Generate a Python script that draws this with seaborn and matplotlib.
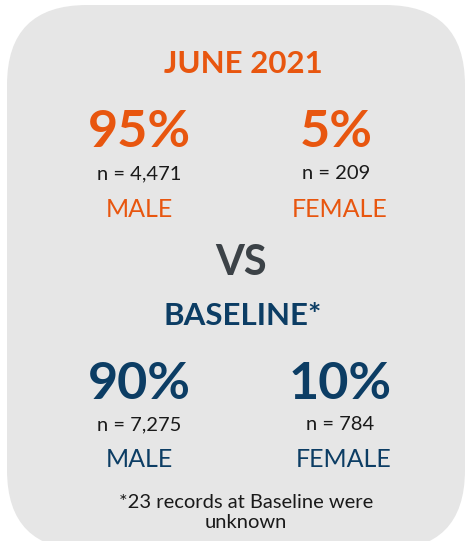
import matplotlib
matplotlib.use('Agg')
import matplotlib.pyplot as plt
from matplotlib.patches import FancyBboxPatch
import seaborn as sns

periods = ['JUNE 2021', 'BASELINE*']
groups = ['MALE', 'FEMALE']
june_pct = [95, 5]
june_n = [4471, 209]
base_pct = [90, 10]
base_n = [7275, 784]
footnote = ['*23 records at Baseline were', 'unknown']

orange = '#e8560f'
navy = '#0c3d64'
vs_grey = '#3c4247'
text_black = '#1a1a1a'

sns.set_theme(style='white')
plt.rcParams['font.family'] = ['Lato', 'DejaVu Sans']

fig = plt.figure(figsize=(4.68, 5.41), dpi=100)
ax = fig.add_axes([0, 0, 1, 1])
ax.set_xlim(0, 468)
ax.set_ylim(541, 0)
ax.axis('off')

# grey rounded card
card = FancyBboxPatch((7, 5), 458, 545, boxstyle='round,pad=0,rounding_size=80',
                      facecolor='#e6e6e6', edgecolor='none')
ax.add_patch(card)


def block(title, pct, n, color, col_x, y_title, y_pct, y_n, y_lab):
    ax.text(243, y_title, title, ha='center', va='baseline', fontsize=22.5,
            fontweight='bold', color=color)
    for i in range(2):
        ax.text(col_x[i], y_pct, '{}%'.format(pct[i]), ha='center', va='baseline',
                fontsize=37.5, fontweight='bold', color=color)
        ax.text(col_x[i], y_n, 'n = {:,}'.format(n[i]), ha='center', va='baseline',
                fontsize=14.5, color=text_black)
        ax.text(col_x[i] + (4 if i else 0), y_lab, groups[i], ha='center',
                va='baseline', fontsize=18, color=color)


block(periods[0], june_pct, june_n, orange, [139, 336], 73, 147, 179, 217)
ax.text(241, 275, 'VS', ha='center', va='baseline', fontsize=30,
        fontweight='bold', color=vs_grey)
block(periods[1], base_pct, base_n, navy, [139, 340], 325, 399, 430, 467)

ax.text(246, 508, footnote[0], ha='center', va='baseline', fontsize=14.5,
        color=text_black)
ax.text(246, 528, footnote[1], ha='center', va='baseline', fontsize=14.5,
        color=text_black)

plt.savefig('out.png', dpi=100)
